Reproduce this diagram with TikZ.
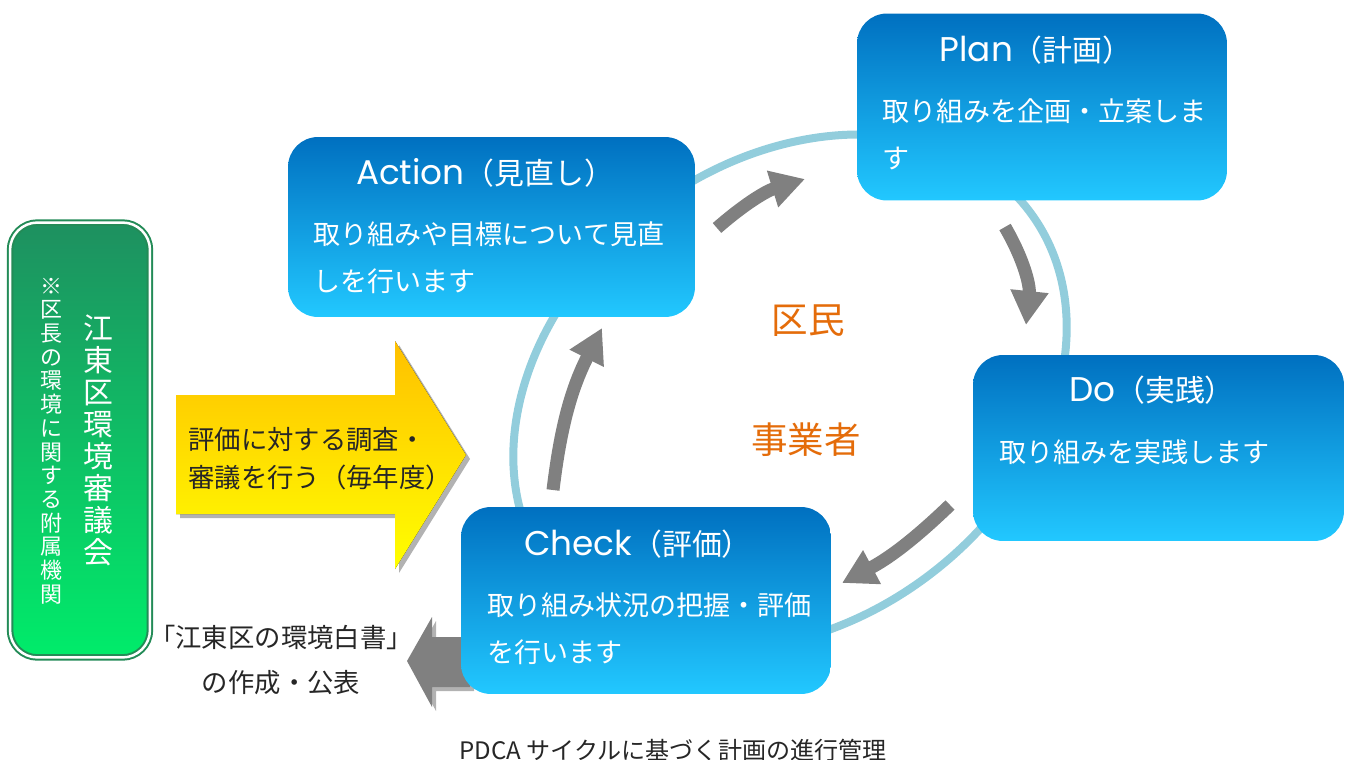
\documentclass[tikz,border=0pt]{standalone}
\usepackage{fontspec}
\setmainfont{Noto Sans CJK JP}
\newfontfamily\geofont{Poppins}
\usetikzlibrary{positioning, arrows.meta, shadows}
\definecolor{BoxTop}{HTML}{0070C0}
\definecolor{BoxBottom}{HTML}{22C8FF}
\definecolor{GreenTop}{HTML}{1E9060}
\definecolor{GreenBottom}{HTML}{00EC6A}
\definecolor{GreenEdge}{HTML}{238B57}
\definecolor{Ring}{HTML}{92CDDC}
\definecolor{ArrowGray}{HTML}{808080}
\definecolor{Citizen}{HTML}{E46C0A}
\definecolor{YellowTop}{HTML}{FFC000}
\definecolor{YellowBottom}{HTML}{FFFF00}
\definecolor{TextDark}{HTML}{262626}
\definecolor{White}{HTML}{FFFFFF}
\newcommand{\latinpart}[1]{{\geofont\fontsize{19.5}{20}\selectfont #1}}
\tikzset{
    pdcabox/.style={rectangle, rounded corners=0.6cm, top color=BoxTop, bottom color=BoxBottom, draw=none},
    boxtitle/.style={text=White, inner sep=0pt, font=\fontsize{17}{20}\selectfont},
    boxbody/.style={text=White, align=left, anchor=west, inner sep=0pt, font=\fontsize{15.4}{26.7}\selectfont},
    council/.style={rectangle, rounded corners=0.55cm, top color=GreenTop, bottom color=GreenBottom, draw=GreenEdge, double=White, double distance=0.05cm, line width=0.04cm},
    vertext/.style={text=White, align=center, inner sep=0pt},
    ring/.style={draw=Ring, line width=0.16cm},
    cyclearrow/.style={-{Triangle[width=0.72cm, length=0.68cm]}, line width=0.26cm, color=ArrowGray},
    blockshadow/.style={drop shadow={shadow xshift=0.08cm, shadow yshift=-0.08cm, opacity=0.3, fill=black}},
    actor/.style={text=Citizen, inner sep=0pt, font=\fontsize{20.8}{24}\selectfont},
    note/.style={text=TextDark, align=left, inner sep=0pt},
}
\begin{document}
\begin{tikzpicture}[x=0.02cm, y=-0.02cm]
    \useasboundingbox (0,0) rectangle (1348,760);

    % Anello del ciclo
    \draw[ring, rotate around={37:(790,392)}] (790,392) ellipse [x radius=6.0cm, y radius=4.6cm];

    % Frecce del ciclo
    \coordinate (aSt) at (717,228);
    \coordinate (aEn) at (805,179);
    \draw[cyclearrow] (aSt) to[bend left=12] (aEn);
    \coordinate (pSt) at (1005,227);
    \coordinate (pEn) at (1026,325);
    \draw[cyclearrow] (pSt) to[bend left=18] (pEn);
    \coordinate (dSt) at (950,505);
    \coordinate (dEn) at (842,583);
    \draw[cyclearrow] (dSt) to[bend left=8] (dEn);
    \coordinate (cSt) at (553,490);
    \coordinate (cEn) at (602,328);
    \draw[cyclearrow] (cSt) to[bend left=10] (cEn);

    % Freccia grigia (pubblicazione)
    \fill[ArrowGray, blockshadow] (470,637) -- (432,637) -- (432,617) -- (407,661) -- (432,707) -- (432,687) -- (470,687) -- cycle;

    % Freccia gialla (valutazione)
    \fill[top color=YellowTop, bottom color=YellowBottom, blockshadow] (176,395) -- (395,395) -- (395,341) -- (466,455) -- (395,569) -- (395,514) -- (176,514) -- cycle;
    \node[note, anchor=west, font=\fontsize{15}{21.6}\selectfont] (survey) at (188,459) {評価に対する調査・\\審議を行う（毎年度）};

    % Action
    \node[pdcabox, minimum width=8.14cm, minimum height=3.6cm] (actBox) at (491.5,227) {};
    \node[boxtitle] (actTitle) at (485,173) {\latinpart{Action}（見直し）};
    \node[boxbody] (actBody) at (313,257.5) {取り組みや目標について見直\\しを行います};

    % Plan
    \node[pdcabox, minimum width=7.4cm, minimum height=3.74cm] (planBox) at (1042,107) {};
    \node[boxtitle] (planTitle) at (1036,50) {\latinpart{Plan}（計画）};
    \node[boxbody] (planBody) at (882,134.5) {取り組みを企画・立案しま\\す};

    % Do
    \node[pdcabox, minimum width=7.42cm, minimum height=3.72cm] (doBox) at (1158.5,448) {};
    \node[boxtitle] (doTitle) at (1152,390) {\latinpart{Do}（実践）};
    \node[boxbody] (doBody) at (999,452) {取り組みを実践します};

    % Check
    \node[pdcabox, minimum width=7.4cm, minimum height=3.74cm] (checkBox) at (646,600.5) {};
    \node[boxtitle] (checkTitle) at (638,544) {\latinpart{Check}（評価）};
    \node[boxbody] (checkBody) at (487,628.5) {取り組み状況の把握・評価\\を行います};

    % Soggetti al centro
    \node[actor] (kumin) at (808,321) {区民};
    \node[actor] (jigyo) at (806,440) {事業者};

    % Consiglio (testo verticale)
    \node[council, minimum width=2.8cm, minimum height=8.7cm] (council) at (80,440) {};
    \node[vertext, font=\fontsize{17}{18.2}\selectfont] (councilName) at (98,440) {江\\東\\区\\環\\境\\審\\議\\会};
    \node[vertext, font=\fontsize{12.5}{13.5}\selectfont] (councilNote) at (51,441) {※\\区\\長\\の\\環\\境\\に\\関\\す\\る\\附\\属\\機\\関};

    % Libro bianco
    \node[note, align=center, font=\fontsize{15}{26}\selectfont] (report) at (281,660) {「江東区の環境白書」\\の作成・公表};

    % Didascalia
    \node[note, font=\fontsize{13.7}{16}\selectfont] (caption) at (673,750) {PDCA サイクルに基づく計画の進行管理};
\end{tikzpicture}
\end{document}
